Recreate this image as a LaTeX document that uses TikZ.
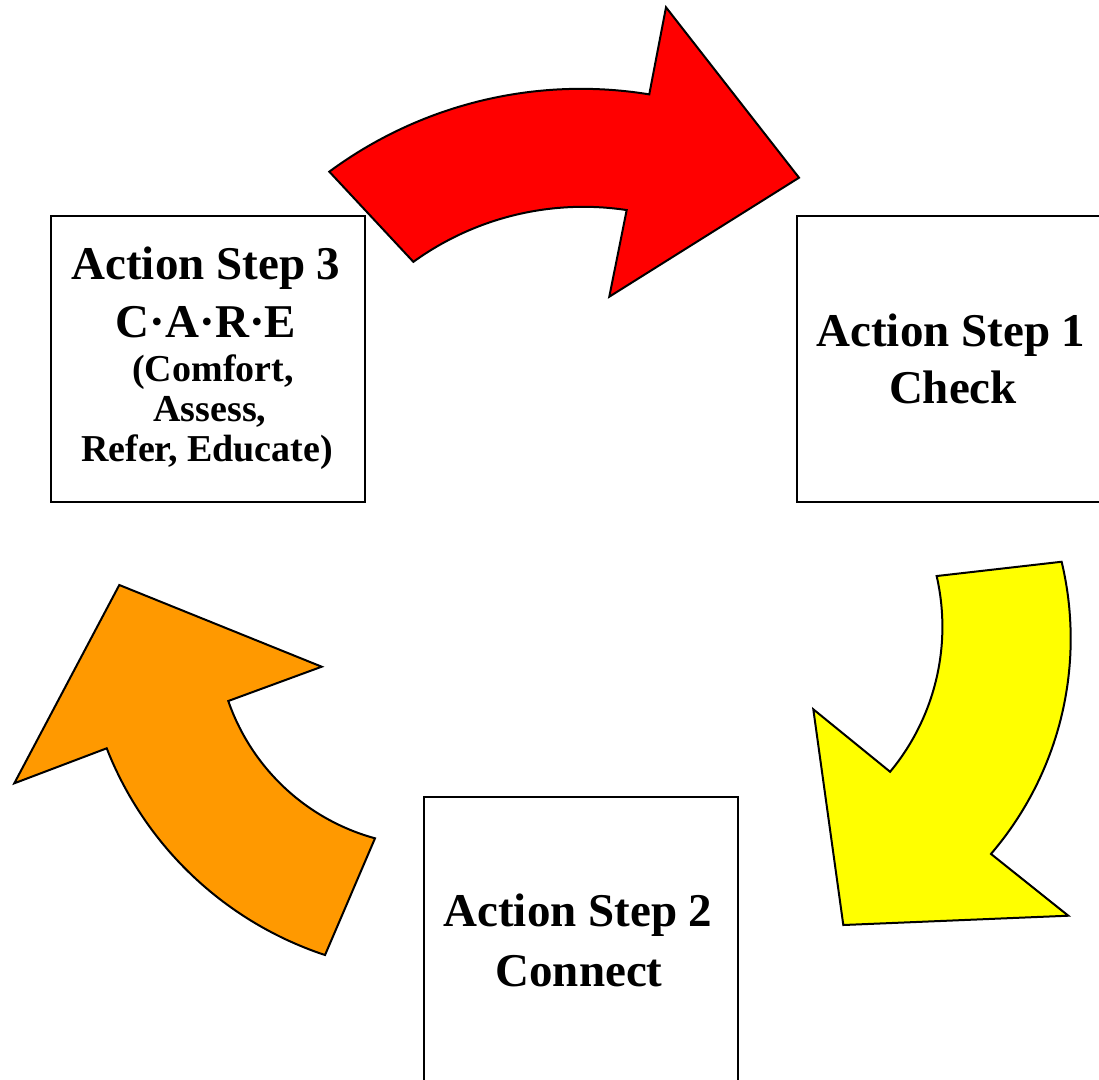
\documentclass[tikz,border=0pt]{standalone}
\usepackage{fontspec}
\setmainfont{Liberation Serif}
\definecolor{redA}{RGB}{255,0,0}
\definecolor{yellowA}{RGB}{255,255,0}
\definecolor{orangeA}{RGB}{255,153,0}
\begin{document}
\begin{tikzpicture}[x=1pt,y=-1pt,
  box/.style={draw=black, line width=2.2pt, fill=white, minimum width=314pt, minimum height=286pt, inner sep=0pt},
  big/.style={font=\bfseries\fontsize{47}{54}\selectfont, inner sep=0pt, anchor=base},
  small/.style={font=\bfseries\fontsize{38}{40}\selectfont, inner sep=0pt, anchor=base},
  arrowshape/.style={draw=black, line width=2pt, line join=miter}
]
\useasboundingbox (0,0) rectangle (1099,1079);
\clip (0,0) rectangle (1099,1079);
\fill[white] (0,0) rectangle (1099,1079);

% boxes
\node[box] (box3) at (208,358.85) {};
\node[box] (box1) at (954.3,358.85) {};
\node[box] (box2) at (581.2,940.15) {};

% red arrow (box 3 -> box 1)
\draw[arrowshape, fill=redA]
  plot[domain=126.45:80.71, samples=60, variable=\t] ({580.9+423.5*cos(\t)},{512.3-423.5*sin(\t)})
  -- (666,7.3) -- (799,177.7) -- (609.3,296.7)
  -- plot[domain=81.42:125.87, samples=60, variable=\t] ({583.4+290.2*cos(\t)},{497-290.2*sin(\t)})
  -- cycle;

% yellow arrow (box 1 -> box 2)
\draw[arrowshape, fill=yellowA]
  plot[domain=13.44:-40.63, samples=60, variable=\t] ({740+330.7*cos(\t)},{638.6-330.7*sin(\t)})
  -- (1068.3,915.7) -- (843.3,925) -- (813.3,709.3)
  -- plot[domain=-39.67:12.92, samples=60, variable=\t] ({715.3+227.1*cos(\t)},{626.8-227.1*sin(\t)})
  -- cycle;

% orange arrow (box 2 -> box 3)
\draw[arrowshape, fill=orangeA]
  plot[domain=-108.29:-158.58, samples=60, variable=\t] ({436.05+353.8*cos(\t)},{619.1-353.8*sin(\t)})
  -- (14.3,783.3) -- (119.3,585) -- (321.7,666.7)
  -- plot[domain=-160.89:-105.31, samples=60, variable=\t] ({431.9+215.5*cos(\t)},{630.45-215.5*sin(\t)})
  -- cycle;

% texts
\node[big] (t1a) at (951,346) {Action Step 1};
\node[big] (t1b) at (953,403) {Check};
\node[big] (t2a) at (578,926) {Action Step 2};
\node[big] (t2b) at (579,986) {Connect};
\node[big] (t3a) at (206,279) {Action Step 3};
\node[big] (t3b) at (206,337.5) {C·A·R·E};
\node[small] (t3c) at (213,381) {(Comfort,};
\node[small] (t3d) at (210,421) {Assess,};
\node[small] (t3e) at (207,461) {Refer, Educate)};
\end{tikzpicture}
\end{document}
